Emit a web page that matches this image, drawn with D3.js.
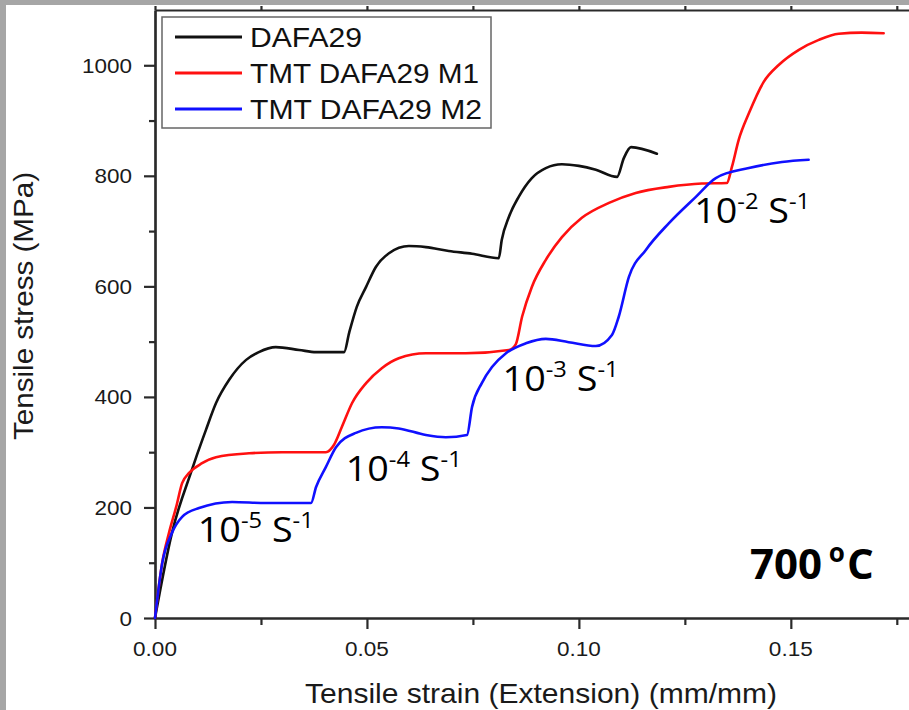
<!DOCTYPE html>
<html>
<head>
<meta charset="utf-8">
<script src="https://cdn.jsdelivr.net/npm/d3@7"></script>
<style>
  html, body { margin: 0; padding: 0; background: #fff; }
  svg { display: block; }
</style>
</head>
<body>
<svg id="chart" width="909" height="710"></svg>
<script>
// ---------- DATA (strain mm/mm, stress MPa) ----------
const seriesNames = ["DAFA29", "TMT DAFA29 M1", "TMT DAFA29 M2"];
const seriesColors = ["#111111", "#ff1010", "#1010ff"];

const dafa29 = [
  [0,0],[0.0040,154],[0.0087,268],[0.0099,295],[0.0120,340],[0.0144,389],
  [0.0175,431],[0.0215,467],[0.0245,481],[0.0285,490],[0.0340,485],
  [0.0380,481],[0.0446,481],[0.0458,516],[0.0476,563],[0.0498,599],
  [0.0521,635],[0.0552,660],[0.0599,673],[0.0639,671],[0.0693,664],
  [0.0748,659],[0.0811,651],[0.0818,684],[0.0835,726],[0.0858,762],
  [0.0889,796],[0.0922,814],[0.0960,821],[0.1000,818],[0.1040,811],
  [0.1090,798],[0.1106,832],[0.1123,852],[0.1184,840]
];
const m1 = [
  [0,0],[0.0017,100],[0.0033,154],[0.0050,201],[0.0064,244],[0.0080,262],
  [0.0111,280],[0.0144,291],[0.0222,298],[0.0300,300],[0.0403,300],
  [0.0422,313],[0.0441,346],[0.0465,389],[0.0498,425],[0.0535,452],
  [0.0575,470],[0.0639,479],[0.0733,479],[0.0835,485],[0.0851,495],
  [0.0866,545],[0.0889,599],[0.0922,648],[0.0960,689],[0.1007,724],
  [0.1071,751],[0.1134,769],[0.1212,780],[0.1290,786],[0.1349,787],
  [0.1361,816],[0.1377,865],[0.1401,913],[0.1436,970],[0.1472,1001],
  [0.1519,1028],[0.1566,1046],[0.1613,1057],[0.1667,1059],[0.1719,1058]
];
const m2 = [
  [0,0],[0.0017,99],[0.0040,154],[0.0064,183],[0.0104,199],[0.0182,210],
  [0.0262,208],[0.0368,208],[0.0380,237],[0.0403,273],[0.0427,309],
  [0.0474,335],[0.0535,345],[0.0575,343],[0.0639,331],[0.0686,327],
  [0.0736,331],[0.0748,382],[0.0771,425],[0.0795,454],[0.0828,479],
  [0.0875,497],[0.0922,505],[0.0976,499],[0.1040,492],[0.1078,512],
  [0.1094,545],[0.1118,617],[0.1158,666],[0.1212,714],[0.1276,762],
  [0.1323,796],[0.1401,814],[0.1479,825],[0.1542,829]
];
const seriesData = [dafa29, m1, m2];

const xTickValues = [0, 0.05, 0.10, 0.15];
const xTickLabels = ["0.00", "0.05", "0.10", "0.15"];
const xMinorTicks = [0.025, 0.075, 0.125, 0.175];
const yTickValues = [0, 200, 400, 600, 800, 1000];
const yTickLabels = ["0", "200", "400", "600", "800", "1000"];
const yMinorTicks = [100, 300, 500, 700, 900];

const rateLabels = [
  {exp: "-5", x: 0.0101, y: 138},
  {exp: "-4", x: 0.0450, y: 247},
  {exp: "-3", x: 0.0820, y: 410},
  {exp: "-2", x: 0.1272, y: 714}
];

// ---------- LAYOUT ----------
const svg = d3.select("#chart");
const x = d3.scaleLinear().domain([0, 0.18]).range([155, 918]);
const y = d3.scaleLinear().domain([0, 1100]).range([618, 10]);
const axisColor = "#2a2a2a";

// grey frame bands
svg.append("rect").attr("x",0).attr("y",0).attr("width",909).attr("height",5).attr("fill","#a6a6a6");
svg.append("rect").attr("x",0).attr("y",0).attr("width",6).attr("height",710).attr("fill","#a6a6a6");

function stretch(sel, k) {
  sel.each(function() {
    const w = this.getComputedTextLength();
    this.setAttribute("textLength", w * k);
    this.setAttribute("lengthAdjust", "spacingAndGlyphs");
  });
}

// axes
const gx = svg.append("g").attr("transform", `translate(0,${y(0)})`)
  .call(d3.axisBottom(x).tickValues(xTickValues).tickFormat("").tickSize(11).tickSizeOuter(0));
const gxm = svg.append("g").attr("transform", `translate(0,${y(0)})`)
  .call(d3.axisBottom(x).tickValues(xMinorTicks).tickFormat("").tickSize(7).tickSizeOuter(0));
const gt = svg.append("g").attr("transform", `translate(0,${y(1100)})`)
  .call(d3.axisTop(x).tickValues(xTickValues.concat(xMinorTicks)).tickFormat("").tickSize(4).tickSizeOuter(0));
const gy = svg.append("g").attr("transform", `translate(${x(0)},0)`)
  .call(d3.axisLeft(y).tickValues(yTickValues).tickFormat("").tickSize(11).tickSizeOuter(0));
const gym = svg.append("g").attr("transform", `translate(${x(0)},0)`)
  .call(d3.axisLeft(y).tickValues(yMinorTicks).tickFormat("").tickSize(6).tickSizeOuter(0));
[gx, gxm, gt, gy, gym].forEach(g => {
  g.selectAll("path").attr("stroke", axisColor).attr("stroke-width", 2.2);
  g.selectAll("line").attr("stroke", axisColor).attr("stroke-width", 2.2);
});

// tick labels
svg.append("g").selectAll("text").data(xTickValues).join("text")
  .attr("x", d => x(d)).attr("y", 656)
  .attr("text-anchor", "middle")
  .attr("font-family", "Liberation Sans, Arial, sans-serif")
  .attr("font-size", 20.5).attr("fill", "#1a1a1a")
  .text((d, i) => xTickLabels[i])
  .call(stretch, 1.1);
svg.append("g").selectAll("text").data(yTickValues).join("text")
  .attr("x", 132).attr("y", d => y(d) + 7.5)
  .attr("text-anchor", "end")
  .attr("font-family", "Liberation Sans, Arial, sans-serif")
  .attr("font-size", 21).attr("fill", "#1a1a1a")
  .text((d, i) => yTickLabels[i])
  .call(stretch, 1.07);

// axis titles
svg.append("text").attr("x", 541).attr("y", 703).attr("text-anchor", "middle")
  .attr("font-family", "Liberation Sans, Arial, sans-serif").attr("font-size", 28).attr("fill", "#1a1a1a")
  .attr("textLength", 472).attr("lengthAdjust", "spacingAndGlyphs")
  .text("Tensile strain (Extension) (mm/mm)");
svg.append("text").attr("transform", "translate(33,306) rotate(-90)").attr("text-anchor", "middle")
  .attr("font-family", "Liberation Sans, Arial, sans-serif").attr("font-size", 28).attr("fill", "#1a1a1a")
  .attr("textLength", 268).attr("lengthAdjust", "spacingAndGlyphs")
  .text("Tensile stress (MPa)");

// curves
const line = d3.line().x(d => x(d[0])).y(d => y(d[1])).curve(d3.curveMonotoneX);
svg.append("g").selectAll("path").data(seriesData).join("path")
  .attr("d", line).attr("fill", "none")
  .attr("stroke", (d, i) => seriesColors[i]).attr("stroke-width", 2.6)
  .attr("stroke-linejoin", "round").attr("stroke-linecap", "round");

// legend
const lg = svg.append("g");
lg.append("rect").attr("x", 162).attr("y", 17).attr("width", 329).attr("height", 111)
  .attr("fill", "#fff").attr("stroke", "#666").attr("stroke-width", 1.5);
const legendLens = [112, 229, 232];
seriesNames.forEach((name, i) => {
  const cy = 37 + i * 36;
  lg.append("line").attr("x1", 175).attr("x2", 242).attr("y1", cy).attr("y2", cy)
    .attr("stroke", seriesColors[i]).attr("stroke-width", 3);
  lg.append("text").attr("x", 250).attr("y", cy + 10)
    .attr("font-family", "Liberation Sans, Arial, sans-serif").attr("font-size", 28).attr("fill", "#111")
    .attr("textLength", legendLens[i]).attr("lengthAdjust", "spacingAndGlyphs")
    .text(name);
});

// strain-rate annotations
const ann = svg.append("g").attr("font-family", "Open Sans, Noto Sans, sans-serif").attr("fill", "#000");
rateLabels.forEach(r => {
  const t = ann.append("text").attr("x", x(r.x)).attr("y", y(r.y)).attr("font-size", 35)
    .attr("textLength", 116).attr("lengthAdjust", "spacingAndGlyphs");
  t.append("tspan").text("10");
  t.append("tspan").attr("font-size", 22).attr("dy", -14).text(r.exp);
  t.append("tspan").attr("font-size", 35).attr("dy", 14).text(" S");
  t.append("tspan").attr("font-size", 22).attr("dy", -14).text("-1");
});

// temperature label
const tt = svg.append("text").attr("x", 750).attr("y", 579)
  .attr("font-family", "Open Sans, Noto Sans, sans-serif").attr("font-weight", "bold")
  .attr("font-size", 42).attr("fill", "#000");
tt.append("tspan").text("700");
tt.append("tspan").attr("font-size", 26).attr("dy", -17).text(" o");
tt.append("tspan").attr("font-size", 42).attr("dy", 17).attr("dx", 2).text("C");
</script>
</body>
</html>
